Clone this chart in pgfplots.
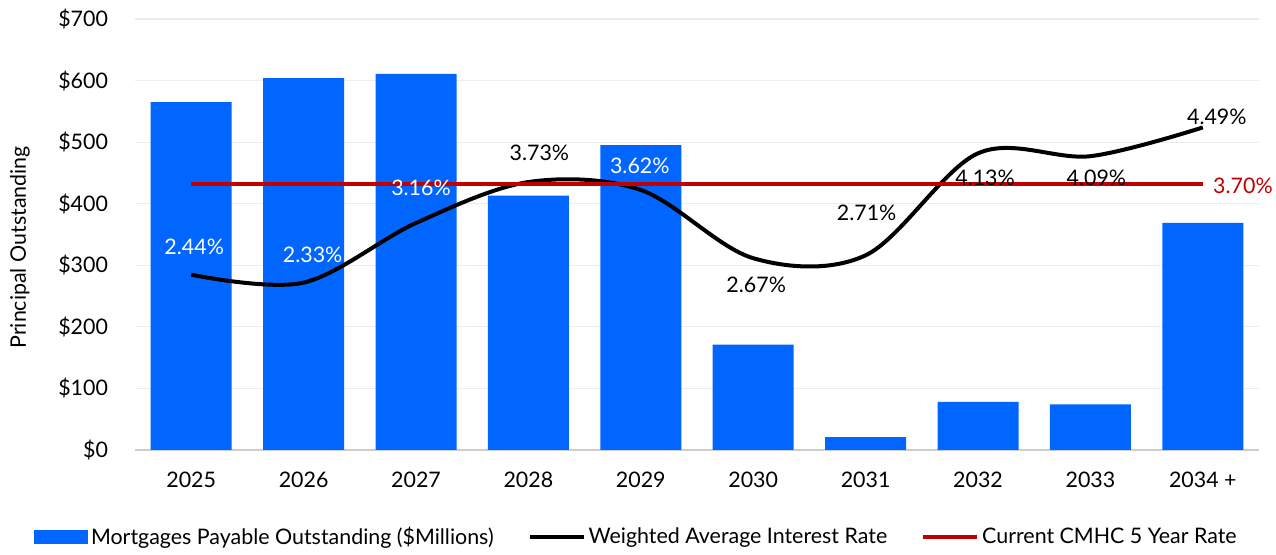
\documentclass[border=0pt]{standalone}
\usepackage{pgfplots}
\pgfplotsset{compat=1.18}
\usepackage{pgfplotstable}
\usepackage{fontspec}
\setmainfont{Lato}

\definecolor{barblue}{RGB}{0,102,255}
\definecolor{cmhcred}{RGB}{192,0,0}
\definecolor{gridgray}{RGB}{236,236,236}
\definecolor{axisgray}{RGB}{205,205,205}

% principal outstanding, $ millions
\pgfplotstableread{
x amount
0 565
1 604
2 611
3 413
4 495
5 171
6 21
7 78
8 74
9 369
}\mortgages

% weighted average rate, % ; label offsets in pt, w = 100 for a white label
\pgfplotstableread{
x rate dx dy w
0 2.44 1.5 14 100
1 2.33 4.5 14 100
2 3.16 2.5 17.5 100
3 3.73 5.5 14.5 0
4 3.62 -0.5 12 100
5 2.67 1.5 -13.5 0
6 2.71 0.5 21 0
7 4.13 3.5 -12.5 0
8 4.09 3 -11 0
9 4.49 7 5.5 0
}\rates

\pgfplotstableread{
x rate
0 3.70
9 3.70
}\cmhc

\begin{document}
\begin{tikzpicture}[font=\fontsize{10.7}{12.8}\selectfont]
\pgfplotsset{
  every axis/.append style={
    scale only axis, width=562pt, height=215.5pt,
    xmin=-0.5, xmax=9.5,
    /pgf/number format/assume math mode=true,
  },
}
\begin{axis}[
  name=ax,
  ybar, bar width=40.5pt,
  ymin=0, ymax=700,
  axis x line*=bottom, axis y line*=left,
  y axis line style={draw=none},
  x axis line style={axisgray, line width=0.8pt},
  major tick length=0pt,
  xtick={0,...,9},
  xticklabels={2025,2026,2027,2028,2029,2030,2031,2032,2033,2034 +},
  xticklabel style={yshift=-7.5pt},
  ytick={0,100,...,700},
  yticklabels={\$0,\$100,\$200,\$300,\$400,\$500,\$600,\$700},
  yticklabel style={xshift=-10pt},
  ymajorgrids, grid style={gridgray, line width=0.6pt},
  ylabel={Principal Outstanding},
  ylabel style={at={(axis description cs:-0.1023,0.47)}, anchor=center},
]
\addplot[fill=barblue, draw=none, bar shift=0pt] table[x=x, y=amount]{\mortgages};
\end{axis}

\begin{axis}[
  ymin=0, ymax=6,
  hide axis, clip=false,
  legend columns=3,
  legend style={at={(axis description cs:0.4466,-0.2019)}, anchor=center, draw=none,
    fill=none, /tikz/every even column/.append style={column sep=15.5pt},
    nodes={inner sep=1.5pt}},
  legend cell align=left,
]
\addlegendimage{legend image code/.code={\fill[barblue] (0pt,-3.25pt) rectangle (26.5pt,3.25pt);}}
\addlegendentry{Mortgages Payable Outstanding (\$Millions)}
\addplot[black, line width=2pt, smooth, tension=0.55,
  legend image code/.code={\draw[black, line width=2pt] (0pt,0pt) -- (27pt,0pt);}]
  table[x=x, y=rate]{\rates};
\addlegendentry{Weighted Average Interest Rate}
\addplot[cmhcred, line width=2pt,
  legend image code/.code={\draw[cmhcred, line width=2pt] (0pt,0pt) -- (27pt,0pt);}]
  table[x=x, y=rate]{\cmhc};
\addlegendentry{Current CMHC 5 Year Rate}
% data labels of the rate line
\addplot[draw=none, forget plot, point meta=y,
  visualization depends on={\thisrow{dx} \as \ldx},
  visualization depends on={\thisrow{dy} \as \ldy},
  visualization depends on={\thisrow{w} \as \lw},
  nodes near coords={\pgfmathprintnumber[fixed,fixed zerofill,precision=2]{\pgfplotspointmeta}\%},
  nodes near coords style={anchor=center, inner sep=0pt, xshift=\ldx pt, yshift=\ldy pt, text=white!\lw!black},
] table[x=x, y=rate]{\rates};
\addplot[draw=none, forget plot, point meta=y,
  nodes near coords={\pgfmathprintnumber[fixed,fixed zerofill,precision=2]{\pgfplotspointmeta}\%},
  nodes near coords style={anchor=west, inner sep=0pt, xshift=5pt, yshift=-1pt, text=cmhcred},
] coordinates {(9,3.70)};
\end{axis}
\useasboundingbox ([shift={(-67.5pt,-48.5pt)}]ax.south west) rectangle ([shift={(8.5pt,9.5pt)}]ax.north east);
\end{tikzpicture}
\end{document}
